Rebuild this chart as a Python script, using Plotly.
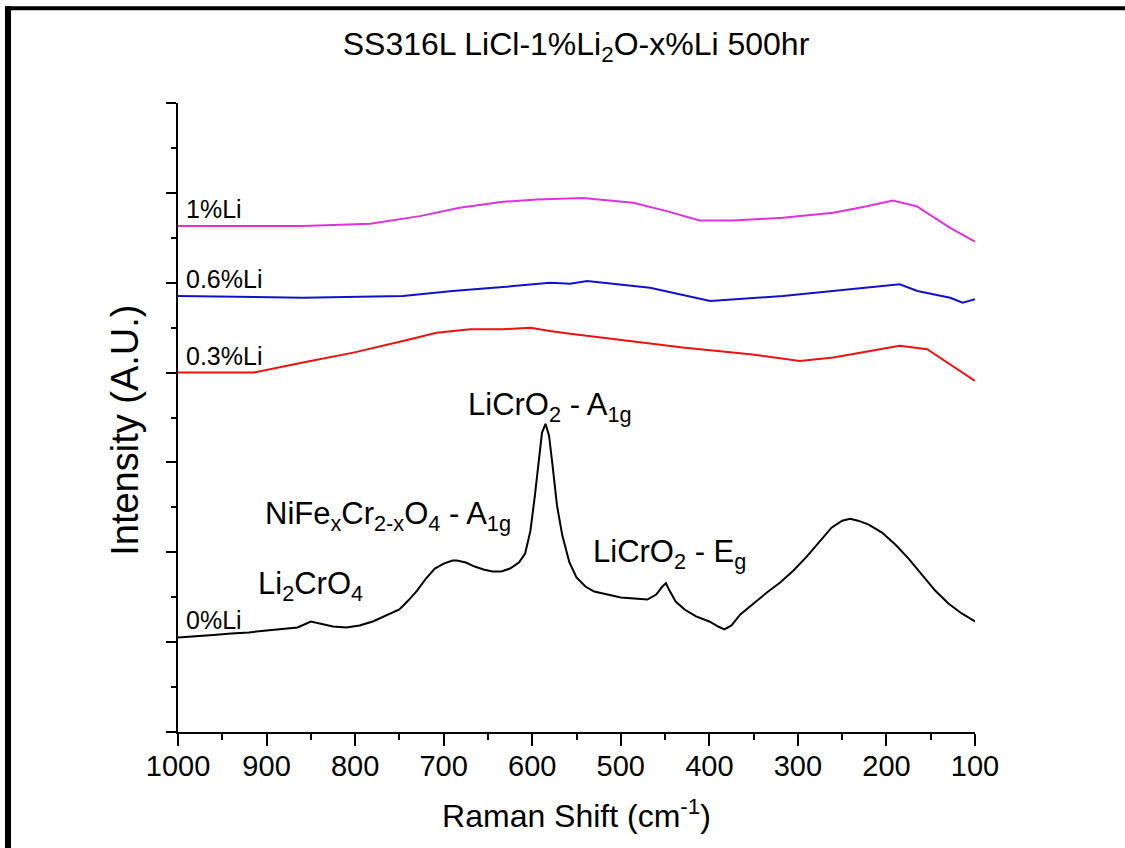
import plotly.graph_objects as go

# ---- data ----
x_0 = [1000, 980, 960, 940, 920, 900, 880, 865, 850, 840, 825, 810, 795, 780, 765, 750, 740, 730, 720, 710,
       700, 690, 685, 675, 665, 655, 645, 635, 625, 615, 608, 602, 597, 593, 589, 585, 581, 577, 572, 566,
       558, 550, 540, 530, 515, 500, 485, 470, 460, 453, 449, 445, 438, 428, 415, 400, 390, 383, 375, 365,
       350, 335, 320, 305, 290, 275, 262, 250, 241, 232, 220, 205, 190, 175, 160, 145, 130, 115, 100]
y_0 = [1.052, 1.063, 1.08, 1.097, 1.108, 1.13, 1.152, 1.163, 1.23, 1.21, 1.174, 1.163, 1.186, 1.23, 1.297,
       1.363, 1.463, 1.574, 1.708, 1.819, 1.874, 1.908, 1.908, 1.886, 1.841, 1.808, 1.786, 1.786, 1.819,
       1.886, 1.986, 2.241, 2.63, 3.019, 3.33, 3.43, 3.297, 2.963, 2.519, 2.186, 1.886, 1.719, 1.619, 1.563,
       1.53, 1.497, 1.486, 1.474, 1.53, 1.619, 1.656, 1.574, 1.452, 1.363, 1.286, 1.23, 1.174, 1.141, 1.186,
       1.308, 1.43, 1.552, 1.663, 1.797, 1.952, 2.13, 2.274, 2.352, 2.374, 2.352, 2.308, 2.219, 2.086, 1.93,
       1.752, 1.574, 1.43, 1.319, 1.23]

x_03 = [1000, 915, 859, 802, 746, 708, 670, 633, 602, 580, 557, 504, 430, 354, 298, 260, 204, 185, 154, 128, 100]
y_03 = [4.0, 4.0, 4.111, 4.222, 4.352, 4.444, 4.482, 4.482, 4.5, 4.463, 4.433, 4.371, 4.278, 4.204, 4.13,
        4.167, 4.26, 4.297, 4.26, 4.093, 3.908]

x_06 = [1000, 859, 746, 690, 633, 595, 580, 557, 538, 467, 399, 317, 241, 185, 165, 128, 114, 100]
y_06 = [4.852, 4.833, 4.852, 4.908, 4.952, 4.982, 5.0, 4.989, 5.019, 4.944, 4.797, 4.852, 4.927, 4.982,
        4.908, 4.833, 4.778, 4.816]

x_1 = [1000, 859, 783, 727, 682, 633, 595, 557, 543, 486, 448, 411, 373, 317, 260, 222, 193, 166, 128, 100]
y_1 = [5.63, 5.63, 5.656, 5.741, 5.833, 5.9, 5.927, 5.938, 5.944, 5.889, 5.797, 5.693, 5.693, 5.722, 5.778,
       5.852, 5.916, 5.852, 5.611, 5.456]

series_names = ["0%Li", "0.3%Li", "0.6%Li", "1%Li"]
series_colors = ["#000000", "#ee1111", "#1111cc", "#dd33dd"]
series_x = [x_0, x_03, x_06, x_1]
series_y = [y_0, y_03, y_06, y_1]

x_ticks = [1000, 900, 800, 700, 600, 500, 400, 300, 200, 100]

peak_labels = ["Li<sub>2</sub>CrO<sub>4</sub>",
               "NiFe<sub>x</sub>Cr<sub>2-x</sub>O<sub>4</sub> - A<sub>1g</sub>",
               "LiCrO<sub>2</sub> - A<sub>1g</sub>",
               "LiCrO<sub>2</sub> - E<sub>g</sub>"]
peak_x = [910, 902, 672, 531]
peak_y = [1.38, 2.16, 3.37, 1.74]

FONT = "Arial, 'Liberation Sans', sans-serif"

fig = go.Figure()
for name, col, xs, ys in zip(series_names, series_colors, series_x, series_y):
    fig.add_trace(go.Scatter(x=xs, y=ys, mode="lines", name=name,
                             line=dict(color=col, width=2), showlegend=False))

# series labels at the start of each curve
for name, xs, ys in zip(series_names, series_x, series_y):
    fig.add_annotation(x=xs[0], y=ys[0], text=name, showarrow=False, xanchor="left", yanchor="bottom",
                       xshift=6, yshift=1, font=dict(family=FONT, size=25, color="black"))

for t, px, py in zip(peak_labels, peak_x, peak_y):
    fig.add_annotation(x=px, y=py, text=t, showarrow=False, xanchor="left", yanchor="bottom",
                       xshift=-2, font=dict(family=FONT, size=31, color="black"))

# y-axis title as rotated text
fig.add_annotation(xref="paper", yref="paper", x=-0.038, y=0.48, text="Intensity (A.U.)", textangle=-90,
                   showarrow=False, xanchor="right", yanchor="middle",
                   font=dict(family=FONT, size=38, color="black"))

# outer thick frame (left and top edges visible)
fig.add_shape(type="rect", xref="paper", yref="paper", x0=-0.2171, x1=-0.2095, y0=-0.19, y1=1.1537,
              fillcolor="black", line=dict(width=0), layer="above")
fig.add_shape(type="rect", xref="paper", yref="paper", x0=-0.2171, x1=1.2, y0=1.1474, y1=1.1537,
              fillcolor="black", line=dict(width=0), layer="above")

fig.update_layout(
    width=1125, height=848,
    margin=dict(l=178, r=150, t=103, b=116),
    paper_bgcolor="white", plot_bgcolor="white",
    title=dict(text="SS316L LiCl-1%Li<sub>2</sub>O-x%Li 500hr", x=0.512, xanchor="center",
               y=0.948, yanchor="middle", font=dict(family=FONT, size=32, color="black")),
    font=dict(family=FONT, color="black"),
    xaxis=dict(range=[1000, 100], tickvals=x_ticks, ticktext=[str(v) for v in x_ticks],
               showgrid=False, zeroline=False, showline=True, linecolor="black", linewidth=2,
               ticks="outside", ticklen=12, tickwidth=2, tickcolor="black",
               ticklabelstandoff=-5,
               tickfont=dict(family=FONT, size=29, color="black"),
               minor=dict(dtick=50, tick0=50, ticks="outside", ticklen=6, tickwidth=2, tickcolor="black"),
               title=dict(text="Raman Shift (cm<sup>-1</sup>)", standoff=24,
                          font=dict(family=FONT, size=32, color="black"))),
    yaxis=dict(range=[0, 7], dtick=1, tick0=0, showticklabels=False,
               showgrid=False, zeroline=False, showline=True, linecolor="black", linewidth=2,
               ticks="outside", ticklen=10, tickwidth=2, tickcolor="black",
               minor=dict(dtick=0.5, tick0=0, ticks="outside", ticklen=5, tickwidth=2, tickcolor="black")),
)

fig.write_html("out.html")
